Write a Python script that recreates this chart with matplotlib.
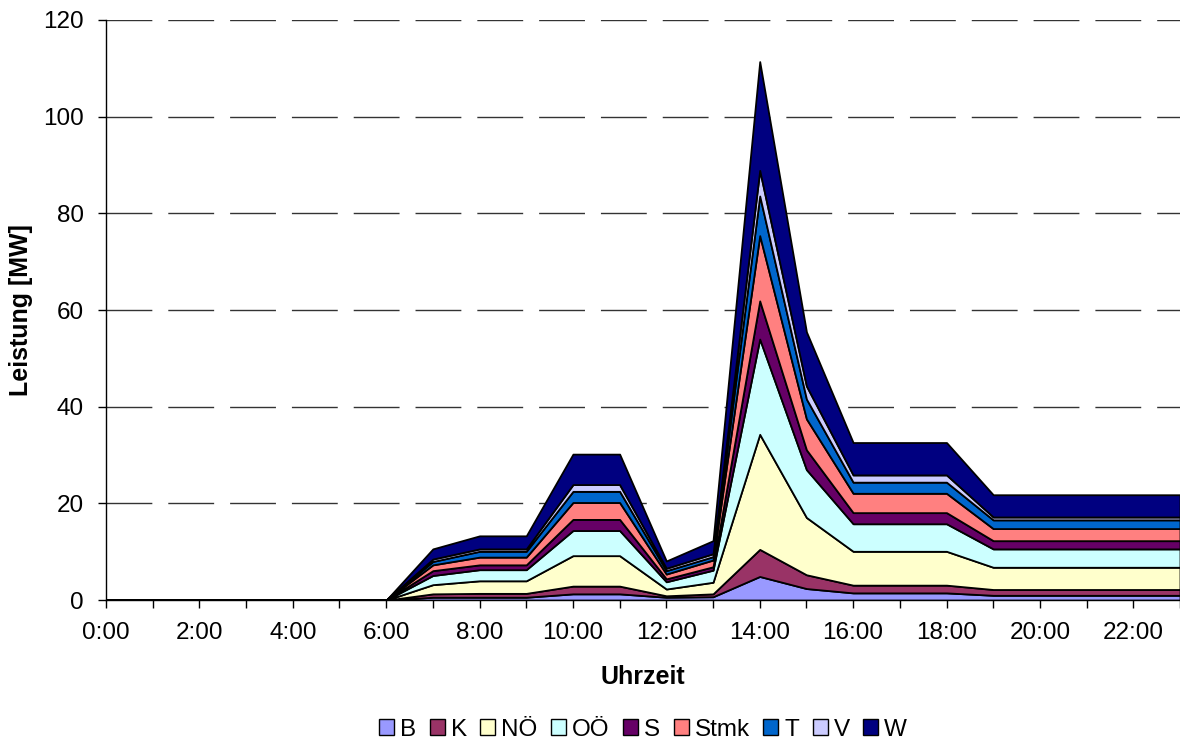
import matplotlib
matplotlib.use("Agg")
import matplotlib.pyplot as plt
from matplotlib.patches import Patch

plt.rcParams['font.family'] = ['Liberation Sans', 'DejaVu Sans']

# Stunden 0..23
hours = list(range(24))
names = ["B", "K", "NÖ", "OÖ", "S", "Stmk", "T", "V", "W"]
colors = ["#9999FF", "#993366", "#FFFFCC", "#CCFFFF", "#660066",
          "#FF8080", "#0066CC", "#CCCCFF", "#000080"]

zeros = [0] * 7  # 0:00 .. 6:00
# values per region (MW), hours 7..23
B    = zeros + [0.6, 0.6, 0.6, 1.3, 1.3, 0.6, 0.7, 4.9, 2.4, 1.5, 1.5, 1.5, 1.0, 1.0, 1.0, 1.0, 1.0]
K    = zeros + [0.7, 0.8, 0.8, 1.6, 1.6, 0.3, 0.6, 5.6, 2.85, 1.6, 1.6, 1.6, 1.2, 1.2, 1.2, 1.2, 1.2]
NOE  = zeros + [1.9, 2.6, 2.6, 6.3, 6.3, 1.4, 2.4, 23.8, 11.85, 7.0, 7.0, 7.0, 4.6, 4.6, 4.6, 4.6, 4.6]
OOE  = zeros + [1.9, 2.3, 2.3, 5.2, 5.2, 1.5, 2.5, 19.7, 9.9, 5.7, 5.7, 5.7, 3.8, 3.8, 3.8, 3.8, 3.8]
S    = zeros + [1.0, 1.0, 1.0, 2.3, 2.3, 0.6, 0.7, 7.9, 4.1, 2.3, 2.3, 2.3, 1.7, 1.7, 1.7, 1.7, 1.7]
Stmk = zeros + [1.2, 1.6, 1.6, 3.5, 3.5, 1.0, 1.4, 13.5, 6.4, 4.0, 4.0, 4.0, 2.5, 2.5, 2.5, 2.5, 2.5]
T    = zeros + [0.7, 1.2, 1.2, 2.3, 2.3, 0.7, 0.7, 8.2, 4.1, 2.3, 2.3, 2.3, 1.8, 1.8, 1.8, 1.8, 1.8]
V    = zeros + [0.5, 0.5, 0.5, 1.4, 1.4, 0.5, 0.6, 5.3, 2.7, 1.5, 1.5, 1.5, 0.6, 0.6, 0.6, 0.6, 0.6]
W    = zeros + [2.1, 2.7, 2.7, 6.3, 6.3, 1.5, 2.7, 22.5, 11.2, 6.7, 6.7, 6.7, 4.6, 4.6, 4.6, 4.6, 4.6]

series = [B, K, NOE, OOE, S, Stmk, T, V, W]
xticklabels = [f"{h}:00" if h % 2 == 0 else "" for h in hours]

fig = plt.figure(figsize=(11.8, 7.4), dpi=100)
ax = fig.add_axes([0.0898, 0.189, 0.9102, 0.784])

ax.stackplot(hours, *series, colors=colors, edgecolor="black", linewidth=1.3, zorder=3)

ax.set_xlim(0, 23)
ax.set_ylim(0, 120)
ax.set_yticks(range(0, 121, 20))
ax.set_xticks(hours)
ax.set_xticklabels(xticklabels)
ax.tick_params(axis="both", direction="out", length=6, width=1, labelsize=17.5, colors="black")
ax.tick_params(axis="x", pad=10)
ax.tick_params(axis="y", pad=10)

for y in range(20, 121, 20):
    ax.axhline(y, color="#333333", lw=1, dashes=(33, 11.5), zorder=1)

for side in ["top", "right"]:
    ax.spines[side].set_visible(False)
ax.spines["left"].set_linewidth(1)
ax.spines["bottom"].set_linewidth(1)
ax.spines["bottom"].set_zorder(4)

ax.set_xlabel("Uhrzeit", fontsize=18, fontweight="bold", labelpad=15)
ax.set_ylabel("Leistung [MW]", fontsize=18, fontweight="bold", labelpad=7)

handles = [Patch(facecolor=c, edgecolor="black", lw=1) for c in colors]
fig.legend(handles, names, loc="center", bbox_to_anchor=(0.545, 0.014), ncol=9, frameon=False,
           fontsize=17.5, handlelength=0.62, handleheight=0.62, handletextpad=0.25,
           columnspacing=0.55, borderpad=0, borderaxespad=0)

plt.savefig("out.png", dpi=100)
